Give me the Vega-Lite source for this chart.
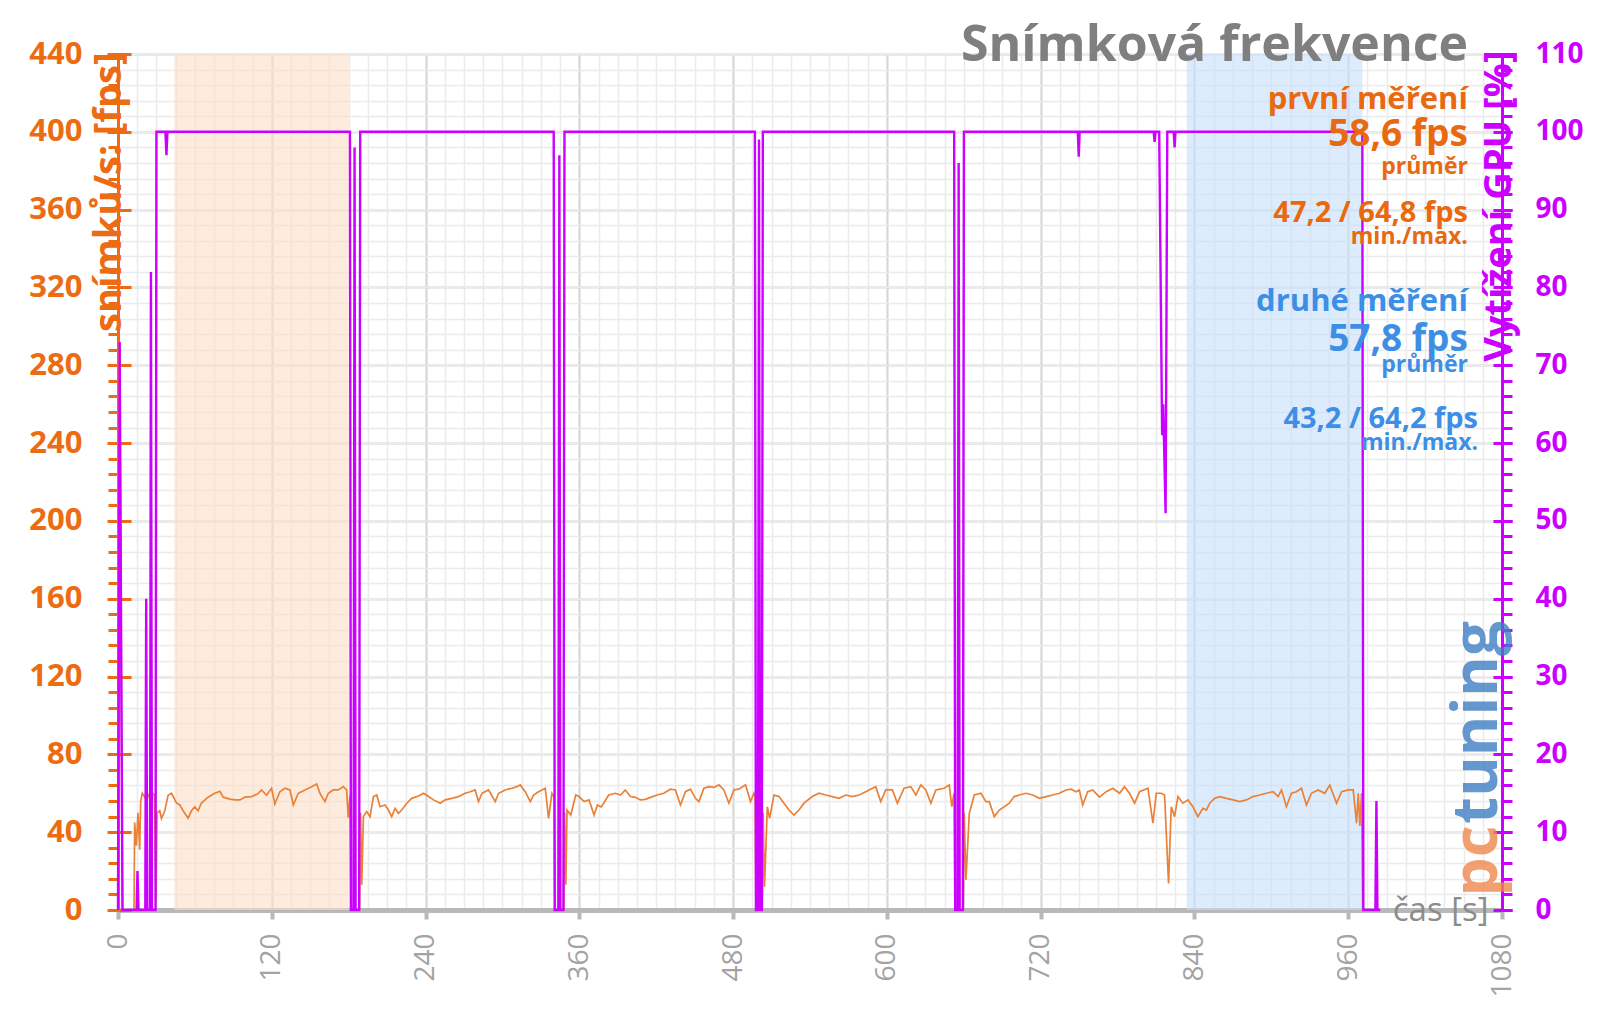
{
  "$schema": "https://vega.github.io/schema/vega-lite/v6.json",
  "width": 1384,
  "height": 856,
  "autosize": {"type": "none"},
  "padding": {"left": 118, "top": 54, "right": 98, "bottom": 99},
  "background": "white",
  "config": {"view": {"stroke": null}, "font": "Open Sans", "axis": {"labelFont": "Open Sans", "titleFont": "Open Sans", "labelOverlap": false, "labelFlush": false}},
  "title": {"text": "Snímková frekvence", "anchor": "end", "frame": "group", "font": "Open Sans", "fontSize": 50, "fontWeight": "bold", "color": "#7f7f7f", "baseline": "alphabetic", "offset": -27, "dx": -34, "dy": 46},
  "datasets": {
    "regions": [
      {"series": "první měření", "start": 44, "end": 180},
      {"series": "druhé měření", "start": 834, "end": 971}
    ],
    "fps": [
      {"t":0,"fps":0},{"t":1.3,"fps":290},{"t":3.5,"fps":0},{"t":12.5,"fps":0},{"t":13,"fps":45},{"t":14.3,"fps":33},{"t":15.6,"fps":50},{"t":16.9,"fps":31},{"t":17.7,"fps":56},{"t":19,"fps":60},{"t":21,"fps":58},{"t":23,"fps":60},{"t":25,"fps":57},{"t":27,"fps":60},{"t":28.5,"fps":59},{"t":29.5,"fps":5},{"t":30.5,"fps":50},{"t":32.6,"fps":51},{"t":33.9,"fps":47},{"t":36.5,"fps":51},{"t":39.1,"fps":59},{"t":41.7,"fps":60},{"t":45.6,"fps":55},{"t":48.2,"fps":54},{"t":50.8,"fps":51},{"t":54.7,"fps":47.2},{"t":57.3,"fps":51},{"t":59.9,"fps":53},{"t":62.5,"fps":51},{"t":65.1,"fps":55},{"t":70.3,"fps":58},{"t":75.5,"fps":60},{"t":79.5,"fps":61},{"t":82.1,"fps":58},{"t":87.3,"fps":57},{"t":91.2,"fps":56.6},{"t":95.1,"fps":56.6},{"t":99,"fps":58},{"t":104.2,"fps":58.3},{"t":109.4,"fps":59.8},{"t":112,"fps":61.7},{"t":115.9,"fps":59},{"t":119.8,"fps":62.6},{"t":122.4,"fps":54.5},{"t":126.3,"fps":60.8},{"t":130.3,"fps":62.6},{"t":134.2,"fps":61.7},{"t":136.8,"fps":54},{"t":140.7,"fps":60},{"t":145.9,"fps":61.7},{"t":151.1,"fps":63.4},{"t":155,"fps":64.8},{"t":157.6,"fps":60},{"t":161.5,"fps":55.7},{"t":164.1,"fps":60},{"t":168,"fps":61.7},{"t":171.9,"fps":61.7},{"t":175.8,"fps":63.4},{"t":178.4,"fps":61.7},{"t":179.7,"fps":47.5},{"t":181,"fps":59},{"t":181.8,"fps":0},{"t":188.5,"fps":0},{"t":189.3,"fps":50},{"t":190.2,"fps":13},{"t":191.5,"fps":48},{"t":194.1,"fps":50.6},{"t":196.7,"fps":48},{"t":199.3,"fps":58.3},{"t":201.9,"fps":59.1},{"t":204.5,"fps":53.1},{"t":208.4,"fps":54},{"t":211,"fps":51.4},{"t":213.6,"fps":48},{"t":216.2,"fps":52.3},{"t":218.8,"fps":49.7},{"t":221.4,"fps":51.4},{"t":225.3,"fps":54.9},{"t":229.2,"fps":57.4},{"t":234.4,"fps":58.6},{"t":238.4,"fps":60},{"t":242.3,"fps":58.3},{"t":246.2,"fps":56.6},{"t":251.4,"fps":54.9},{"t":255.3,"fps":56.6},{"t":260.5,"fps":57.4},{"t":265.7,"fps":58.3},{"t":270.9,"fps":60},{"t":274.8,"fps":60.8},{"t":278.7,"fps":61.7},{"t":281.3,"fps":55.7},{"t":284,"fps":60},{"t":289.2,"fps":61.7},{"t":294.4,"fps":55.7},{"t":297,"fps":60},{"t":302.2,"fps":61.7},{"t":307.4,"fps":62.6},{"t":311.3,"fps":63.4},{"t":313.9,"fps":64.3},{"t":317.8,"fps":60.8},{"t":321.7,"fps":55.7},{"t":324.3,"fps":59.1},{"t":328.2,"fps":60.8},{"t":333.4,"fps":62.6},{"t":336,"fps":47.1},{"t":338.6,"fps":60},{"t":340.3,"fps":58},{"t":340.8,"fps":0},{"t":347.8,"fps":0},{"t":348.5,"fps":50},{"t":349.5,"fps":13},{"t":350.4,"fps":51.4},{"t":353.3,"fps":48.8},{"t":357.2,"fps":59.1},{"t":359.8,"fps":58.3},{"t":363.7,"fps":55.7},{"t":367.6,"fps":56.6},{"t":371.5,"fps":48.8},{"t":374.1,"fps":54},{"t":377,"fps":53},{"t":379,"fps":54.9},{"t":382.9,"fps":59.1},{"t":388.1,"fps":60},{"t":392,"fps":59.1},{"t":395.9,"fps":61.7},{"t":399.9,"fps":58.3},{"t":403.8,"fps":57.9},{"t":407.7,"fps":56.6},{"t":411.6,"fps":56.9},{"t":415.5,"fps":57.9},{"t":420.7,"fps":59.1},{"t":425.9,"fps":60},{"t":431.1,"fps":62.1},{"t":435,"fps":61.7},{"t":438.9,"fps":54},{"t":442.8,"fps":60.8},{"t":446.7,"fps":62.1},{"t":450.6,"fps":57.4},{"t":453.3,"fps":55.7},{"t":457.2,"fps":62.6},{"t":461.1,"fps":63.4},{"t":465,"fps":63},{"t":468.9,"fps":64.3},{"t":472.8,"fps":61.7},{"t":476.7,"fps":54.9},{"t":480.6,"fps":61.7},{"t":484.5,"fps":62.1},{"t":489.7,"fps":64.3},{"t":493.6,"fps":55.7},{"t":496.2,"fps":60},{"t":497.2,"fps":58},{"t":497.8,"fps":0},{"t":502.8,"fps":0},{"t":503.4,"fps":50},{"t":504.5,"fps":12},{"t":506.7,"fps":53.1},{"t":508.5,"fps":47.1},{"t":511.9,"fps":59.1},{"t":515.8,"fps":58.3},{"t":519.7,"fps":54.9},{"t":523.6,"fps":51.4},{"t":527.5,"fps":48.8},{"t":531.4,"fps":51.4},{"t":535.3,"fps":54.9},{"t":541.8,"fps":58.3},{"t":547,"fps":60},{"t":552.2,"fps":59.1},{"t":557.4,"fps":58.3},{"t":562.7,"fps":57.4},{"t":567.9,"fps":59.1},{"t":573.1,"fps":58.3},{"t":578.3,"fps":59.1},{"t":583.5,"fps":60.8},{"t":588.7,"fps":62.6},{"t":591.3,"fps":63.4},{"t":595.2,"fps":55.7},{"t":599.1,"fps":61.7},{"t":604.3,"fps":61.7},{"t":608.2,"fps":54.9},{"t":613.4,"fps":62.6},{"t":618.7,"fps":63.4},{"t":622.6,"fps":59.1},{"t":626.5,"fps":64.3},{"t":630.4,"fps":61.7},{"t":634.3,"fps":54.9},{"t":638.2,"fps":61.7},{"t":644.7,"fps":62.6},{"t":648.6,"fps":64.3},{"t":650.7,"fps":53.1},{"t":652.3,"fps":60},{"t":653.1,"fps":0},{"t":659.6,"fps":0},{"t":660.3,"fps":50},{"t":661.7,"fps":15.4},{"t":664.3,"fps":49.7},{"t":668.2,"fps":59.1},{"t":673.4,"fps":60},{"t":677.3,"fps":55.7},{"t":679.9,"fps":55.7},{"t":683.8,"fps":48},{"t":687.7,"fps":51.4},{"t":691.6,"fps":53.1},{"t":695.5,"fps":54.9},{"t":699.4,"fps":58.3},{"t":703.3,"fps":59.1},{"t":708.5,"fps":60},{"t":713.8,"fps":59.1},{"t":719,"fps":57.4},{"t":724.2,"fps":58.3},{"t":729.4,"fps":59.1},{"t":734.6,"fps":60},{"t":739.8,"fps":61.7},{"t":743.7,"fps":62.1},{"t":747.6,"fps":60.8},{"t":750.2,"fps":61.7},{"t":752.8,"fps":54},{"t":756.7,"fps":60.8},{"t":760.6,"fps":61.7},{"t":765.9,"fps":58},{"t":771.1,"fps":60.8},{"t":776.3,"fps":62.6},{"t":781.5,"fps":60},{"t":785.4,"fps":63.4},{"t":789.3,"fps":60},{"t":793.3,"fps":54.9},{"t":797.2,"fps":60.8},{"t":803.7,"fps":62.6},{"t":807.6,"fps":44.6},{"t":810.2,"fps":60},{"t":814.1,"fps":60},{"t":816.7,"fps":59.1},{"t":819.8,"fps":13.7},{"t":821.9,"fps":53.1},{"t":824.5,"fps":48},{"t":827.1,"fps":58.3},{"t":831,"fps":54.9},{"t":834.9,"fps":56.6},{"t":838.8,"fps":53.1},{"t":842.7,"fps":48},{"t":846.6,"fps":52.3},{"t":849.3,"fps":51.4},{"t":851.9,"fps":54.9},{"t":855.8,"fps":57.4},{"t":859.7,"fps":58.3},{"t":864.9,"fps":57.4},{"t":870.1,"fps":56.6},{"t":875.3,"fps":55.7},{"t":880.5,"fps":56.6},{"t":885.7,"fps":58.3},{"t":890.9,"fps":59.1},{"t":896.2,"fps":60},{"t":901.4,"fps":60.8},{"t":905.3,"fps":58.3},{"t":907.9,"fps":61.7},{"t":911.8,"fps":53.1},{"t":915.7,"fps":60},{"t":919.6,"fps":60.8},{"t":923.5,"fps":62.6},{"t":927.4,"fps":54},{"t":931.3,"fps":60},{"t":936.5,"fps":61.7},{"t":941.7,"fps":60},{"t":945.6,"fps":64.2},{"t":950.9,"fps":54.9},{"t":954.8,"fps":60.8},{"t":960,"fps":61.7},{"t":963.9,"fps":61.7},{"t":966.5,"fps":44.6},{"t":967.8,"fps":60},{"t":969.1,"fps":43.2},{"t":970.4,"fps":60},{"t":971.3,"fps":0},{"t":985,"fps":0}
    ],
    "gpu": [
      {"t":0,"gpu":0},{"t":1.3,"gpu":73},{"t":3.5,"gpu":0},{"t":14.5,"gpu":0},{"t":15.2,"gpu":5},{"t":16,"gpu":0},{"t":21.3,"gpu":0},{"t":22,"gpu":40},{"t":22.8,"gpu":0},{"t":25,"gpu":0},{"t":25.7,"gpu":82},{"t":26.5,"gpu":0},{"t":29.3,"gpu":0},{"t":30,"gpu":100},{"t":37,"gpu":100},{"t":37.8,"gpu":97},{"t":38.6,"gpu":100},{"t":181,"gpu":100},{"t":181.8,"gpu":0},{"t":183.8,"gpu":0},{"t":184.6,"gpu":98},{"t":185.4,"gpu":0},{"t":188.2,"gpu":0},{"t":189,"gpu":100},{"t":340,"gpu":100},{"t":340.8,"gpu":0},{"t":343.6,"gpu":0},{"t":344.4,"gpu":97},{"t":345.2,"gpu":0},{"t":347.6,"gpu":0},{"t":348.4,"gpu":100},{"t":497,"gpu":100},{"t":497.8,"gpu":0},{"t":499.4,"gpu":0},{"t":500.2,"gpu":99},{"t":501,"gpu":0},{"t":502.4,"gpu":0},{"t":503.2,"gpu":100},{"t":652.5,"gpu":100},{"t":653.3,"gpu":0},{"t":655.2,"gpu":0},{"t":656,"gpu":96},{"t":656.8,"gpu":0},{"t":659.3,"gpu":0},{"t":660.1,"gpu":100},{"t":749,"gpu":100},{"t":749.7,"gpu":96.8},{"t":750.4,"gpu":100},{"t":808.2,"gpu":100},{"t":808.9,"gpu":98.7},{"t":809.6,"gpu":100},{"t":812.5,"gpu":100},{"t":814.8,"gpu":61},{"t":815.6,"gpu":65},{"t":817.5,"gpu":51},{"t":818.8,"gpu":100},{"t":823.8,"gpu":100},{"t":824.5,"gpu":98},{"t":825.2,"gpu":100},{"t":971,"gpu":100},{"t":971.8,"gpu":0},{"t":981.2,"gpu":0},{"t":982,"gpu":14},{"t":982.8,"gpu":0},{"t":985,"gpu":0}
    ]
  },
  "layer": [
    {
      "data": {"name": "regions"},
      "mark": {"type": "rect", "opacity": 0.6},
      "encoding": {
        "x": {"field": "start", "type": "quantitative", "scale": {"domain": [0, 1080], "nice": false, "zero": false},
              "axis": {"orient": "bottom", "values": [0,15,30,45,60,75,90,105,120,135,150,165,180,195,210,225,240,255,270,285,300,315,330,345,360,375,390,405,420,435,450,465,480,495,510,525,540,555,570,585,600,615,630,645,660,675,690,705,720,735,750,765,780,795,810,825,840,855,870,885,900,915,930,945,960,975,990,1005,1020,1035,1050,1065,1080],
                       "grid": true, "gridColor": "#ebebeb", "gridWidth": 1.5, "labels": false, "ticks": false, "domain": false, "title": null}},
        "x2": {"field": "end"},
        "color": {"field": "series", "type": "nominal", "scale": {"domain": ["první měření", "druhé měření"], "range": ["#fcdfc8", "#c6dffa"]}, "legend": null}
      }
    },
    {
      "data": {"name": "fps"},
      "mark": {"type": "line", "color": "#ea8136", "strokeWidth": 1.7},
      "encoding": {
        "x": {"field": "t", "type": "quantitative", "scale": {"domain": [0, 1080], "nice": false, "zero": false},
              "axis": {"orient": "bottom", "values": [0,120,240,360,480,600,720,840,960,1080], "format": "d", "grid": true, "gridColor": "#d6d6d6", "gridWidth": 2,
                       "labelAngle": -90, "labelFontSize": 28, "labelColor": "#a3a3a3", "labelPadding": 14,
                       "domainColor": "#b8b8b8", "domainWidth": 5, "tickColor": "#b8b8b8", "tickSize": 9, "tickWidth": 4,
                       "title": "čas [s]", "titleX": 1370, "titleY": 10, "titleAlign": "right", "titleBaseline": "alphabetic", "titleAngle": 0,
                       "titleFontSize": 33, "titleFontWeight": "normal", "titleColor": "#8c8c8c"}},
        "y": {"field": "fps", "type": "quantitative", "scale": {"domain": [0, 440], "nice": false},
              "axis": {"orient": "left", "values": [0,40,80,120,160,200,240,280,320,360,400,440], "grid": true, "gridColor": "#d6d6d6", "gridWidth": 2,
                       "labelFontSize": 31, "labelFontWeight": "bold", "labelColor": "#ec6c13", "labelPadding": 25,
                       "tickSize": 11, "tickWidth": 3, "tickColor": "#ec6c13", "domainColor": "#ec6c13", "domainWidth": 3,
                       "title": "snímků/s: [fps]", "titleAngle": -90, "titleX": 2, "titleY": -2, "titleAlign": "right", "titleBaseline": "alphabetic",
                       "titleFontSize": 38, "titleFontWeight": "bold", "titleColor": "#ec6c13"}}
      }
    },
    {
      "data": {"name": "gpu"},
      "mark": {"type": "line", "color": "#cc00ff", "strokeWidth": 2.4},
      "encoding": {
        "x": {"field": "t", "type": "quantitative", "scale": {"domain": [0, 1080], "nice": false, "zero": false}, "axis": null},
        "y": {"field": "gpu", "type": "quantitative", "scale": {"domain": [0, 110], "nice": false},
              "axis": {"orient": "right", "values": [0,10,20,30,40,50,60,70,80,90,100,110], "grid": false,
                       "labelFontSize": 28, "labelFontWeight": "bold", "labelColor": "#cc00ff", "labelPadding": 23,
                       "tickSize": 10, "tickWidth": 3, "tickColor": "#cc00ff", "domainColor": "#cc00ff", "domainWidth": 3,
                       "title": "Vytížení GPU [%]", "titleAngle": -90, "titleX": 8, "titleY": -4, "titleAlign": "right", "titleBaseline": "alphabetic",
                       "titleFontSize": 38, "titleFontWeight": "bold", "titleColor": "#cc00ff"}}
      }
    },
    {
      "data": {"values": [{}]},
      "mark": {"type": "text", "text": "první měření", "align": "right", "baseline": "alphabetic", "font": "Open Sans", "fontSize": 31, "fontWeight": "bold", "color": "#e8690f"},
      "encoding": {
        "x": {"datum": 1053.4, "type": "quantitative", "scale": {"domain": [0, 1080], "nice": false, "zero": false}, "axis": null},
        "y": {"datum": 411.5, "type": "quantitative", "scale": {"domain": [0, 440], "nice": false},
              "axis": {"orient": "left", "values": [0,8,16,24,32,40,48,56,64,72,80,88,96,104,112,120,128,136,144,152,160,168,176,184,192,200,208,216,224,232,240,248,256,264,272,280,288,296,304,312,320,328,336,344,352,360,368,376,384,392,400,408,416,424,432,440],
                       "grid": true, "gridColor": "#ebebeb", "gridWidth": 1.5, "labels": false, "domain": false, "ticks": true, "tickColor": "#ec6c13", "tickSize": 10, "tickWidth": 3, "title": null}}
      }
    },
    {
      "data": {"values": [{}]},
      "mark": {"type": "text", "text": "58,6 fps", "align": "right", "baseline": "alphabetic", "font": "Open Sans", "fontSize": 37, "fontWeight": "bold", "color": "#e8690f"},
      "encoding": {
        "x": {"datum": 1053.4, "type": "quantitative", "scale": {"domain": [0, 1080], "nice": false, "zero": false}, "axis": null},
        "y": {"datum": 392.6, "type": "quantitative", "scale": {"domain": [0, 440], "nice": false},
              "axis": {"orient": "left", "values": [0,40,80,120,160,200,240,280,320,360,400,440], "grid": false, "labels": false, "domain": false, "ticks": true, "tickColor": "#ec6c13", "tickSize": -13, "tickWidth": 3, "title": null}}
      }
    },
    {
      "data": {"values": [{}]},
      "mark": {"type": "text", "text": "průměr", "align": "right", "baseline": "alphabetic", "font": "Open Sans", "fontSize": 23, "fontWeight": "bold", "color": "#e8690f"},
      "encoding": {
        "x": {"datum": 1053.4, "type": "quantitative", "scale": {"domain": [0, 1080], "nice": false, "zero": false}, "axis": null},
        "y": {"datum": 378.1, "type": "quantitative", "scale": {"domain": [0, 440], "nice": false}, "axis": null}
      }
    },
    {
      "data": {"values": [{}]},
      "mark": {"type": "text", "text": "47,2 / 64,8 fps", "align": "right", "baseline": "alphabetic", "font": "Open Sans", "fontSize": 29, "fontWeight": "bold", "color": "#e8690f"},
      "encoding": {
        "x": {"datum": 1053.4, "type": "quantitative", "scale": {"domain": [0, 1080], "nice": false, "zero": false}, "axis": null},
        "y": {"datum": 353.4, "type": "quantitative", "scale": {"domain": [0, 440], "nice": false}, "axis": null}
      }
    },
    {
      "data": {"values": [{}]},
      "mark": {"type": "text", "text": "min./max.", "align": "right", "baseline": "alphabetic", "font": "Open Sans", "fontSize": 23, "fontWeight": "bold", "color": "#e8690f"},
      "encoding": {
        "x": {"datum": 1053.4, "type": "quantitative", "scale": {"domain": [0, 1080], "nice": false, "zero": false}, "axis": null},
        "y": {"datum": 342.1, "type": "quantitative", "scale": {"domain": [0, 440], "nice": false}, "axis": null}
      }
    },
    {
      "data": {"values": [{}]},
      "mark": {"type": "text", "text": "druhé měření", "align": "right", "baseline": "alphabetic", "font": "Open Sans", "fontSize": 31, "fontWeight": "bold", "color": "#3d8fe6"},
      "encoding": {
        "x": {"datum": 1053.4, "type": "quantitative", "scale": {"domain": [0, 1080], "nice": false, "zero": false}, "axis": null},
        "y": {"datum": 76.95, "type": "quantitative", "scale": {"domain": [0, 110], "nice": false},
              "axis": {"orient": "right", "values": [0,2,4,6,8,10,12,14,16,18,20,22,24,26,28,30,32,34,36,38,40,42,44,46,48,50,52,54,56,58,60,62,64,66,68,70,72,74,76,78,80,82,84,86,88,90,92,94,96,98,100,102,104,106,108,110],
                       "grid": false, "labels": false, "domain": false, "ticks": true, "tickColor": "#cc00ff", "tickSize": 10, "tickWidth": 3, "title": null}}
      }
    },
    {
      "data": {"values": [{}]},
      "mark": {"type": "text", "text": "57,8 fps", "align": "right", "baseline": "alphabetic", "font": "Open Sans", "fontSize": 37, "fontWeight": "bold", "color": "#3d8fe6"},
      "encoding": {
        "x": {"datum": 1053.4, "type": "quantitative", "scale": {"domain": [0, 1080], "nice": false, "zero": false}, "axis": null},
        "y": {"datum": 71.8, "type": "quantitative", "scale": {"domain": [0, 110], "nice": false},
              "axis": {"orient": "right", "values": [0,10,20,30,40,50,60,70,80,90,100,110], "grid": false, "labels": false, "domain": false, "ticks": true, "tickColor": "#cc00ff", "tickSize": -9, "tickWidth": 3, "title": null}}
      }
    },
    {
      "data": {"values": [{}]},
      "mark": {"type": "text", "text": "průměr", "align": "right", "baseline": "alphabetic", "font": "Open Sans", "fontSize": 23, "fontWeight": "bold", "color": "#3d8fe6"},
      "encoding": {
        "x": {"datum": 1053.4, "type": "quantitative", "scale": {"domain": [0, 1080], "nice": false, "zero": false}, "axis": null},
        "y": {"datum": 276.3, "type": "quantitative", "scale": {"domain": [0, 440], "nice": false}, "axis": null}
      }
    },
    {
      "data": {"values": [{}]},
      "mark": {"type": "text", "text": "43,2 / 64,2 fps", "align": "right", "baseline": "alphabetic", "font": "Open Sans", "fontSize": 29, "fontWeight": "bold", "color": "#3d8fe6"},
      "encoding": {
        "x": {"datum": 1061.3, "type": "quantitative", "scale": {"domain": [0, 1080], "nice": false, "zero": false}, "axis": null},
        "y": {"datum": 248, "type": "quantitative", "scale": {"domain": [0, 440], "nice": false}, "axis": null}
      }
    },
    {
      "data": {"values": [{}]},
      "mark": {"type": "text", "text": "min./max.", "align": "right", "baseline": "alphabetic", "font": "Open Sans", "fontSize": 23, "fontWeight": "bold", "color": "#3d8fe6"},
      "encoding": {
        "x": {"datum": 1061.3, "type": "quantitative", "scale": {"domain": [0, 1080], "nice": false, "zero": false}, "axis": null},
        "y": {"datum": 236.7, "type": "quantitative", "scale": {"domain": [0, 440], "nice": false}, "axis": null}
      }
    },
    {
      "data": {"values": [{}]},
      "mark": {"type": "text", "text": "pc", "angle": -90, "align": "left", "baseline": "alphabetic", "font": "Open Sans", "fontSize": 62, "fontWeight": "bold", "color": "#f0894f", "opacity": 0.8},
      "encoding": {
        "x": {"datum": 1076, "type": "quantitative", "scale": {"domain": [0, 1080], "nice": false, "zero": false}, "axis": null},
        "y": {"datum": 6.9, "type": "quantitative", "scale": {"domain": [0, 440], "nice": false}, "axis": null}
      }
    },
    {
      "data": {"values": [{}]},
      "mark": {"type": "text", "text": "tuning", "angle": -90, "align": "left", "baseline": "alphabetic", "font": "Open Sans", "fontSize": 62, "fontWeight": "bold", "color": "#3f7fc4", "opacity": 0.8},
      "encoding": {
        "x": {"datum": 1076, "type": "quantitative", "scale": {"domain": [0, 1080], "nice": false, "zero": false}, "axis": null},
        "y": {"datum": 44.2, "type": "quantitative", "scale": {"domain": [0, 440], "nice": false}, "axis": null}
      }
    }
  ],
  "resolve": {"scale": {"y": "independent"}, "axis": {"x": "independent", "y": "independent"}}
}
